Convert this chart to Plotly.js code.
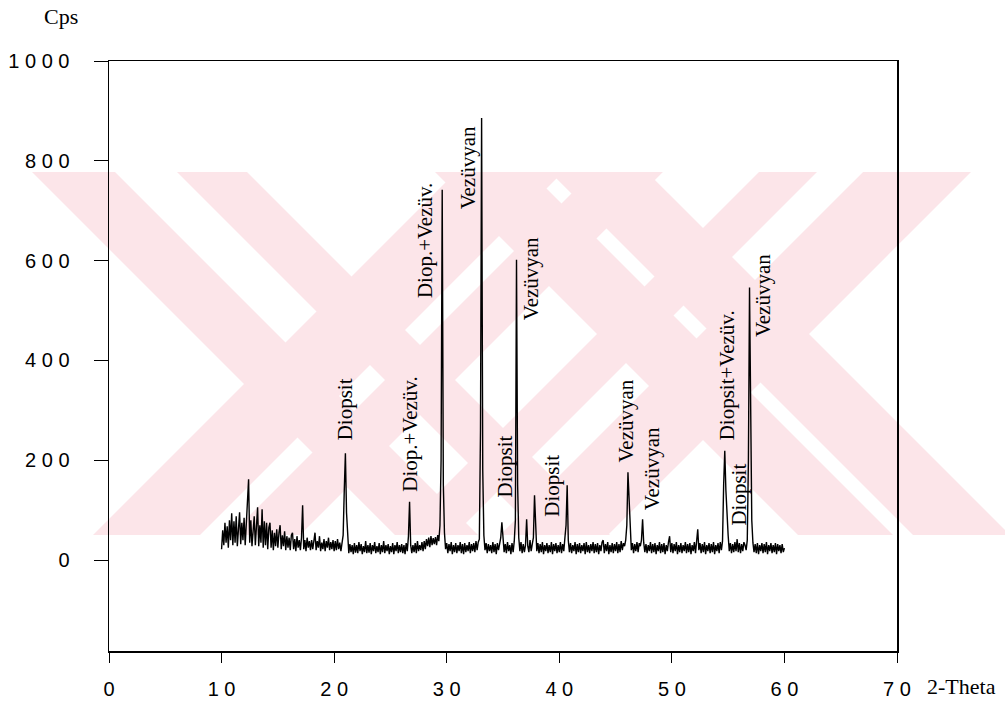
<!DOCTYPE html>
<html>
<head>
<meta charset="utf-8">
<script src="https://cdn.plot.ly/plotly-3.0.1.min.js"></script>
<style>html,body{margin:0;padding:0;background:#fff;}#chart{width:1005px;height:705px;}</style>
</head>
<body>
<div id="chart"></div>
<script>
// 2-Theta scan: start 10.0, step 0.1, counts per step (Cps)
const thetaStart = 10.0;
const thetaStep = 0.1;
const cps = [
  22, 60, 30, 75, 35, 68, 25, 80, 40, 94,
  30, 78, 35, 88, 28, 70, 96, 32, 75, 40,
  85, 30, 72, 95, 162, 35, 80, 28, 70, 88,
  30, 75, 106, 28, 70, 35, 102, 25, 78, 30,
  75, 22, 65, 75, 25, 60, 20, 55, 28, 62,
  25, 55, 70, 22, 50, 28, 58, 20, 48, 25,
  45, 20, 50, 55, 22, 42, 18, 48, 25, 40,
  20, 45, 110, 22, 40, 18, 45, 25, 38, 20,
  40, 22, 45, 55, 20, 38, 25, 48, 18, 35,
  22, 42, 18, 38, 25, 45, 20, 36, 22, 40,
  18, 38, 20, 42, 22, 35, 18, 40, 50, 140,
  214, 95, 35, 14, 32, 16, 30, 12, 34, 15,
  30, 14, 36, 18, 32, 12, 28, 16, 38, 14,
  30, 15, 34, 12, 30, 18, 36, 14, 28, 16,
  34, 12, 30, 16, 38, 14, 30, 18, 32, 12,
  28, 16, 34, 12, 30, 18, 36, 14, 30, 16,
  32, 14, 30, 12, 34, 18, 48, 117, 30, 14,
  30, 16, 34, 14, 38, 18, 30, 20, 36, 18,
  38, 22, 42, 28, 45, 26, 48, 30, 44, 32,
  46, 30, 50, 38, 70, 200, 742, 150, 55, 22,
  34, 14, 32, 18, 36, 12, 30, 16, 34, 14,
  30, 18, 36, 14, 32, 12, 34, 16, 30, 18,
  36, 14, 32, 18, 34, 16, 38, 20, 36, 42,
  260, 886, 180, 50, 20, 34, 14, 32, 18, 30,
  14, 36, 16, 32, 12, 34, 20, 38, 45, 76,
  40, 16, 32, 14, 36, 18, 30, 12, 34, 16,
  38, 80, 602, 150, 45, 18, 36, 14, 32, 16,
  30, 82, 28, 16, 40, 18, 32, 45, 130, 50,
  18, 34, 14, 32, 16, 36, 12, 30, 18, 34,
  14, 30, 16, 36, 12, 32, 18, 34, 14, 30,
  16, 36, 14, 32, 18, 45, 70, 150, 40, 16,
  34, 14, 30, 18, 36, 12, 32, 16, 34, 14,
  30, 18, 34, 12, 36, 16, 30, 14, 32, 18,
  36, 14, 32, 16, 34, 12, 30, 18, 36, 40,
  14, 32, 18, 36, 12, 30, 16, 34, 14, 32,
  18, 36, 14, 32, 16, 38, 20, 34, 28, 40,
  70, 176, 120, 45, 20, 34, 14, 32, 18, 36,
  16, 34, 28, 40, 82, 35, 16, 32, 14, 30,
  18, 36, 14, 32, 16, 34, 12, 30, 18, 36,
  14, 32, 16, 34, 12, 30, 18, 36, 48, 16,
  34, 14, 32, 18, 36, 12, 30, 16, 34, 14,
  30, 18, 36, 14, 32, 16, 34, 12, 30, 18,
  36, 14, 32, 62, 20, 34, 14, 32, 16, 36,
  12, 30, 18, 34, 14, 32, 16, 36, 12, 30,
  18, 34, 14, 36, 20, 38, 150, 219, 140, 80,
  50, 18, 34, 14, 32, 16, 36, 18, 42, 16,
  34, 14, 32, 18, 36, 30, 20, 40, 200, 546,
  220, 80, 35, 16, 32, 14, 34, 12, 30, 18,
  34, 14, 32, 16, 36, 12, 30, 18, 34, 14,
  30, 16, 34, 12, 32, 18, 30, 14, 32, 16,
  24
];

// Peak labels (phase names) and where they sit (2-Theta, Cps at label foot)
const labelText = ["Diopsit", "Diop.+Vezüv.", "Diop.+Vezüv.", "Vezüvyan", "Diopsit", "Vezüvyan",
                   "Diopsit", "Vezüvyan", "Vezüvyan", "Diopsit+Vezüv.", "Diopsit", "Vezüvyan"];
const labelTheta = [20.96, 26.74, 28.07, 31.9, 35.2, 37.5, 39.4, 45.9, 48.2, 54.9, 56.0, 58.1];
const labelCps   = [236, 132, 522, 698, 122, 476, 82, 192, 96, 236, 66, 442];

const xTickVals = [0, 10, 20, 30, 40, 50, 60, 70];
const xTickText = ["0", "1 0", "2 0", "3 0", "4 0", "5 0", "6 0", "7 0"];
const yTickVals = [0, 200, 400, 600, 800, 1000];
const yTickText = ["0", "2 0 0", "4 0 0", "6 0 0", "8 0 0", "1 0 0 0"];

const serif = "Liberation Serif, Times New Roman, serif";
const sans = "Liberation Sans, Arial, sans-serif";

// ---- page decoration: faint pink watermark of diagonal bands (not data) ----
const W = 1005, H = 705, ML = 109, MR = 108, MT = 61, MB = 54;
const PW = W - ML - MR, PH = H - MT - MB;
const wmTop = 172, wmBottom = 535;            // band vertical extent on the page
const backBands = [[-140, -57], [5, 75], [263, 358], [378, 475]];   // "\" bands: x - y range
const slashBands = [[628, 735], [765, 835], [931, 989], [1035, 1143]]; // "/" bands: x + y range
const px2x = p => ((p - ML) / PW).toFixed(4);
const py2y = p => ((H - MB - p) / PH).toFixed(4);
function poly(pts) {
  return "M" + pts.map(p => px2x(p[0]) + "," + py2y(p[1])).join(" L") + " Z";
}
const wmShapes = [];
backBands.forEach(([a, b]) => wmShapes.push(poly([[a + wmTop, wmTop], [b + wmTop, wmTop], [b + wmBottom, wmBottom], [a + wmBottom, wmBottom]])));
slashBands.forEach(([a, b]) => wmShapes.push(poly([[a - wmTop, wmTop], [b - wmTop, wmTop], [b - wmBottom, wmBottom], [a - wmBottom, wmBottom]])));
const shapes = wmShapes.map(p => ({
  type: "path", path: p, xref: "paper", yref: "paper", layer: "below",
  fillcolor: "#fce5e9", line: {width: 0}
}));

const annotations = labelText.map((t, i) => ({
  text: t, x: labelTheta[i], y: labelCps[i], xref: "x", yref: "y",
  showarrow: false, textangle: -90, xanchor: "center", yanchor: "bottom",
  font: {family: serif, size: 21, color: "#000"}
}));
annotations.push({text: "Cps", xref: "paper", yref: "paper", x: -0.061, y: 1.076,
  showarrow: false, xanchor: "center", yanchor: "middle", font: {family: serif, size: 22, color: "#000"}});
annotations.push({text: "2-Theta", xref: "paper", yref: "paper", x: 1.0355, y: -0.061,
  showarrow: false, xanchor: "left", yanchor: "middle", font: {family: serif, size: 22, color: "#000"}});

const trace = {
  type: "scatter", mode: "lines", x0: thetaStart, dx: thetaStep, y: cps,
  line: {color: "#000", width: 1.4}, hoverinfo: "x+y"
};

const layout = {
  width: W, height: H,
  margin: {l: ML, r: MR, t: MT, b: MB},
  paper_bgcolor: "#fff", plot_bgcolor: "rgba(0,0,0,0)",
  showlegend: false,
  xaxis: {
    range: [0, 70], tickvals: xTickVals, ticktext: xTickText,
    showgrid: false, zeroline: false, showline: true, mirror: true,
    linecolor: "#000", linewidth: 1.5, ticks: "outside", ticklen: 10, tickwidth: 1, tickcolor: "#000",
    ticklabelstandoff: 9,
    tickfont: {family: sans, size: 20, color: "#000"}
  },
  yaxis: {
    range: [-182, 1000], tickvals: yTickVals, ticktext: yTickText,
    showgrid: false, zeroline: false, showline: true, mirror: true,
    linecolor: "#000", linewidth: 1.5, ticks: "outside", ticklen: 14, tickwidth: 1, tickcolor: "#000",
    ticklabelstandoff: 20,
    tickfont: {family: sans, size: 20, color: "#000"}
  },
  shapes: shapes,
  annotations: annotations
};

Plotly.newPlot("chart", [trace], layout, {displayModeBar: false, staticPlot: true});
</script>
</body>
</html>
